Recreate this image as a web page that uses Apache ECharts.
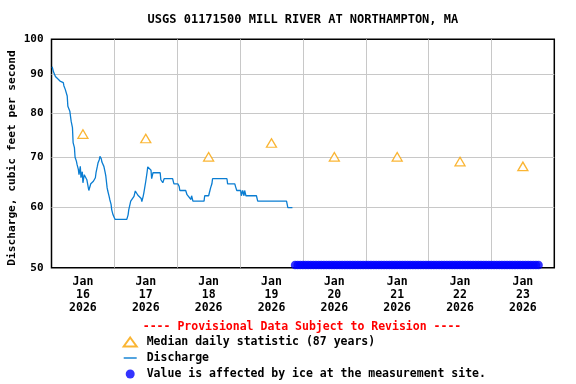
<!DOCTYPE html>
<html>
<head>
<meta charset="utf-8">
<script src="https://cdn.jsdelivr.net/npm/echarts@6/dist/echarts.min.js"></script>
<style>
html,body{margin:0;padding:0;background:#fff;}
#chart{width:576px;height:384px;}
</style>
</head>
<body>
<div id="chart"></div>
<script>
// ---- data ----
const titleText = 'USGS 01171500 MILL RIVER AT NORTHAMPTON, MA';
const yAxisTitle = 'Discharge, cubic feet per second';
const provisionalText = '---- Provisional Data Subject to Revision ----';
const dayLabels = ['Jan\n16\n2026','Jan\n17\n2026','Jan\n18\n2026','Jan\n19\n2026','Jan\n20\n2026','Jan\n21\n2026','Jan\n22\n2026','Jan\n23\n2026'];
const yTicks = [50, 60, 70, 80, 90, 100];
// hours since Jan 16 00:00
const dischargeHours = [0.25,0.75,1.5,3.25,4.5,4.75,5.25,6.0,6.25,7.0,7.5,8.0,8.25,8.75,9.0,9.5,9.75,10.25,10.5,11.0,11.25,11.75,12.0,12.5,12.75,13.5,14.25,15.0,16.0,16.75,17.0,17.5,17.75,18.25,18.5,19.0,19.25,20.0,20.5,20.75,21.25,21.5,22.0,22.25,22.75,23.0,23.5,24.25,28.75,29.25,29.5,30.25,31.5,32.0,32.75,33.0,34.25,34.5,35.0,35.25,36.0,36.5,36.75,37.5,38.0,38.25,38.75,41.5,41.75,42.5,43.0,46.25,46.75,48.25,48.75,49.0,51.25,51.75,52.5,53.25,53.5,54.0,58.25,58.5,60.0,60.5,60.75,61.25,61.5,67.0,67.25,70.0,70.25,70.75,72.25,72.5,73.0,73.5,73.75,74.25,78.25,78.75,89.75,90.25,92.0];
const dischargeValues = [92.0,90.6,89.3,88.1,87.7,86.8,85.9,84.2,81.6,80.4,78.0,76.5,73.1,72.0,69.9,69.1,68.4,67.4,66.3,68.0,65.7,66.9,64.7,66.3,66.7,65.3,63.2,64.5,65.0,65.7,66.7,68.0,68.7,69.4,70.1,69.6,68.9,68.0,66.7,66.0,63.7,63.1,62.1,61.5,60.6,59.6,58.7,57.9,57.9,58.7,59.6,61.2,62.1,63.1,63.1,62.3,61.7,61.1,62.1,62.7,65.0,66.8,67.9,67.9,67.2,65.5,66.7,66.7,65.3,64.7,65.5,65.5,64.5,64.5,64.0,63.2,63.2,62.4,62.2,61.5,62.2,61.2,61.2,62.2,62.2,63.2,63.7,64.5,65.5,65.5,64.5,64.5,64.0,63.2,63.2,62.2,63.2,62.2,63.2,62.2,62.2,61.2,61.2,60.0,60.0];
const medianHours = [12, 36, 60, 84, 108, 132, 156, 180];
const medianValues = [75, 74, 70, 73, 70, 70, 69, 68];
const iceHours = [93,94,95,96,97,98,99,100,101,102,103,104,105,106,107,108,109,110,111,112,113,114,115,116,117,118,119,120,121,122,123,124,125,126,127,128,129,130,131,132,133,134,135,136,137,138,139,140,141,142,143,144,145,146,147,148,149,150,151,152,153,154,155,156,157,158,159,160,161,162,163,164,165,166,167,168,169,170,171,172,173,174,175,176,177,178,179,180,181,182,183,184,185,186];
const iceValue = 50.4;

const FONT = '"DejaVu Sans Mono", monospace';
const NAME_MEDIAN = 'Median daily statistic (87 years)';
const NAME_Q = 'Discharge';
const NAME_ICE = 'Value is affected by ice at the measurement site.';
const zip = (a, b) => a.map((x, i) => [x, b[i]]);

const chart = echarts.init(document.getElementById('chart'), null, {renderer: 'canvas'});
chart.setOption({
  animation: false,
  backgroundColor: '#ffffff',
  title: {
    text: titleText, left: 302.9, top: 14, textAlign: 'center', padding: 0,
    textStyle: {fontFamily: FONT, fontWeight: 'bold', fontSize: 12, color: '#000'}
  },
  grid: {left: 51.5, right: 21.7, top: 39.3, bottom: 116.3, show: true, borderColor: '#000', borderWidth: 1.5, containLabel: false},
  xAxis: [
    {type: 'value', min: 0, max: 192, interval: 24, position: 'bottom',
     axisLine: {show: false}, axisTick: {show: false}, axisLabel: {show: false},
     splitLine: {show: true, showMinLine: false, showMaxLine: false, lineStyle: {color: '#c8c8c8', width: 1}}},
    {type: 'category', data: dayLabels, boundaryGap: true, position: 'bottom',
     axisLine: {show: false}, axisTick: {show: false}, splitLine: {show: false},
     axisLabel: {interval: 0, margin: 8, lineHeight: 13, fontFamily: FONT, fontWeight: 'bold', fontSize: 11.5, color: '#000'}}
  ],
  yAxis: {
    type: 'log', logBase: 10, min: 50, max: 100,
    axisLine: {show: false},
    axisTick: {show: false, customValues: yTicks},
    axisLabel: {customValues: yTicks, margin: 8, fontFamily: FONT, fontWeight: 'bold', fontSize: 11, color: '#000'},
    splitLine: {show: true, showMinLine: false, showMaxLine: false, lineStyle: {color: '#c8c8c8', width: 1}}
  },
  legend: {
    orient: 'vertical', left: 122.7, top: 335, padding: 0,
    itemWidth: 13, itemHeight: 9, itemGap: 2,
    data: [
      {name: NAME_MEDIAN},
      {name: NAME_Q, icon: 'path://M0,0L13,0L13,1.4L0,1.4Z'},
      {name: NAME_ICE}
    ],
    textStyle: {fontFamily: FONT, fontWeight: 'bold', fontSize: 11.5, lineHeight: 14, color: '#000', padding: [0, 0, 0, 5]}
  },
  graphic: [
    {type: 'text', x: 302, y: 327, style: {text: provisionalText, fill: '#ff0000', font: 'bold 11.5px ' + FONT, align: 'center', verticalAlign: 'middle'}},
    {type: 'text', x: 11.7, y: 158, rotation: Math.PI / 2, style: {text: yAxisTitle, fill: '#000', font: 'bold 11.2px ' + FONT, align: 'center', verticalAlign: 'middle'}}
  ],
  series: [
    {name: NAME_MEDIAN, type: 'scatter', xAxisIndex: 0, symbol: 'triangle', symbolSize: [10, 8.5],
     itemStyle: {color: '#ffffff', borderColor: '#f9a200', borderWidth: 1.3}, z: 4,
     data: zip(medianHours, medianValues)},
    {name: NAME_Q, type: 'line', xAxisIndex: 0, symbol: 'none',
     lineStyle: {color: '#0a7dd2', width: 1.3}, itemStyle: {color: '#0a7dd2'}, z: 3,
     data: zip(dischargeHours, dischargeValues)},
    {name: NAME_ICE, type: 'scatter', xAxisIndex: 0, symbol: 'circle', symbolSize: 8.5,
     itemStyle: {color: '#0000ff'}, z: 5,
     data: iceHours.map(h => [h, iceValue])}
  ]
});
</script>
</body>
</html>
